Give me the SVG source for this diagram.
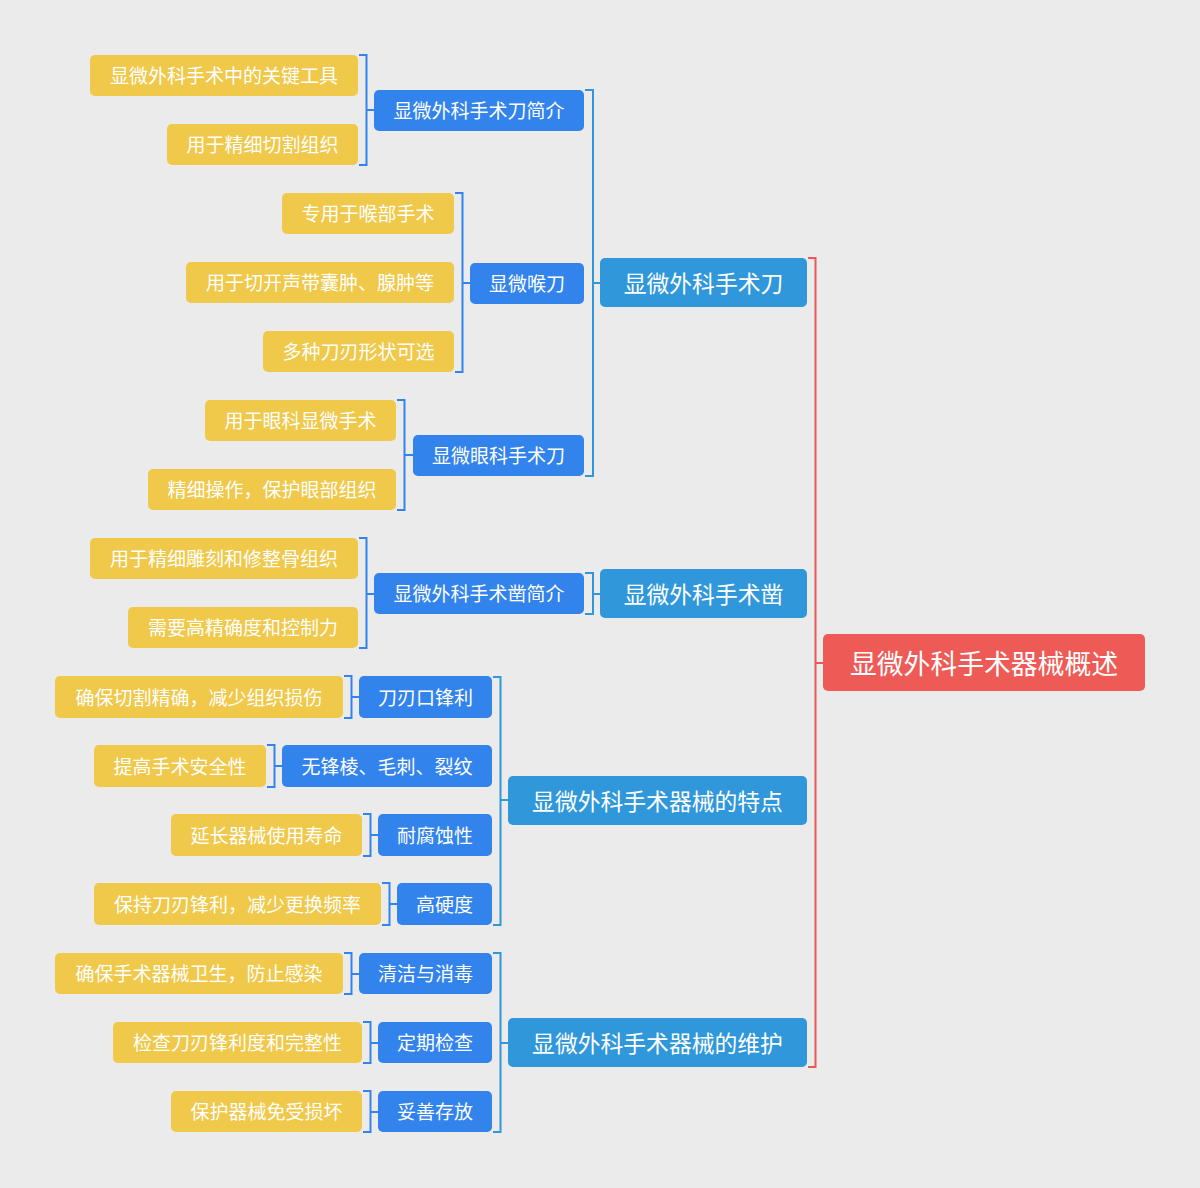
<svg xmlns="http://www.w3.org/2000/svg" width="1200" height="1188" viewBox="0 0 1200 1188">
<style>
text{font-family:"Noto Sans CJK SC","Microsoft YaHei",sans-serif;fill:#fff;text-anchor:middle;dominant-baseline:central}
.r rect{fill:#EE5B56}
.l1 rect{fill:#3098DA}
.l2 rect{fill:#3283EC}
.l3 rect{fill:#F0C84A}
.r text{font-size:26.8px}
.l1 text{font-size:22.8px}
.l2 text,.l3 text{font-size:19px}
.c path{fill:none;stroke-width:2}
.cr{stroke:#E85A55}
.c1{stroke:#3098DA}
.c2{stroke:#3283EC}
</style>
<rect width="1200" height="1188" fill="#EBEBEB"/>
<g class="c" id="connectors">
<path class="cr" d="M808 258H815.5V1067H808M815.5 663H823"/>
<path class="c1" d="M585 90H593V476H585M593 283H600"/>
<path class="c1" d="M585 573H593V614H585M593 594H600"/>
<path class="c1" d="M493 677H500.5V925H493M500.5 800H508"/>
<path class="c1" d="M493 953H500.5V1132H493M500.5 1043H508"/>
<path class="c2" d="M359 55H366.5V165H359M366.5 110H374"/>
<path class="c2" d="M455 193H462.5V372H455M462.5 283H470"/>
<path class="c2" d="M397 400H404.5V510H397M404.5 455H413"/>
<path class="c2" d="M359 538H366.5V648H359M366.5 594H374"/>
<path class="c2" d="M344 676H351.5V718H344M351.5 697H359"/>
<path class="c2" d="M267 745H274.5V787H267M274.5 766H282"/>
<path class="c2" d="M363 814H370.5V856H363M370.5 835H378"/>
<path class="c2" d="M382 883H389.5V925H382M389.5 904H397"/>
<path class="c2" d="M344 953H351.5V994H344M351.5 974H359"/>
<path class="c2" d="M363 1022H370.5V1063H363M370.5 1043H378"/>
<path class="c2" d="M363 1091H370.5V1132H363M370.5 1112H378"/>
</g>
<g id="root" class="r"><rect x="823" y="634" width="322" height="57" rx="5"/><text x="984" y="662">显微外科手术器械概述</text></g>
<g id="n1" class="l1"><rect x="600" y="258" width="207" height="49" rx="5"/><text x="703.5" y="282">显微外科手术刀</text></g>
<g id="n2" class="l1"><rect x="600" y="569" width="207" height="49" rx="5"/><text x="703.5" y="593">显微外科手术凿</text></g>
<g id="n3" class="l1"><rect x="508" y="776" width="299" height="49" rx="5"/><text x="657.5" y="800">显微外科手术器械的特点</text></g>
<g id="n4" class="l1"><rect x="508" y="1018" width="299" height="49" rx="5"/><text x="657.5" y="1042">显微外科手术器械的维护</text></g>
<g id="n1a" class="l2"><rect x="374" y="90" width="210" height="41" rx="5"/><text x="479" y="109.5">显微外科手术刀简介</text></g>
<g id="n1b" class="l2"><rect x="470" y="263" width="114" height="41" rx="5"/><text x="527" y="282.5">显微喉刀</text></g>
<g id="n1c" class="l2"><rect x="413" y="435" width="171" height="41" rx="5"/><text x="498.5" y="454.5">显微眼科手术刀</text></g>
<g id="n2a" class="l2"><rect x="374" y="573" width="210" height="41" rx="5"/><text x="479" y="592.5">显微外科手术凿简介</text></g>
<g id="n3a" class="l2"><rect x="359" y="676" width="133" height="42" rx="5"/><text x="425.5" y="696">刀刃口锋利</text></g>
<g id="n3b" class="l2"><rect x="282" y="745" width="210" height="42" rx="5"/><text x="387" y="765">无锋棱、毛刺、裂纹</text></g>
<g id="n3c" class="l2"><rect x="378" y="814" width="114" height="42" rx="5"/><text x="435" y="834">耐腐蚀性</text></g>
<g id="n3d" class="l2"><rect x="397" y="883" width="95" height="42" rx="5"/><text x="444.5" y="903">高硬度</text></g>
<g id="n4a" class="l2"><rect x="359" y="953" width="133" height="41" rx="5"/><text x="425.5" y="972.5">清洁与消毒</text></g>
<g id="n4b" class="l2"><rect x="378" y="1022" width="114" height="41" rx="5"/><text x="435" y="1041.5">定期检查</text></g>
<g id="n4c" class="l2"><rect x="378" y="1091" width="114" height="41" rx="5"/><text x="435" y="1110.5">妥善存放</text></g>
<g id="n1a1" class="l3"><rect x="90" y="55" width="268" height="41" rx="5"/><text x="224" y="74.5">显微外科手术中的关键工具</text></g>
<g id="n1a2" class="l3"><rect x="167" y="124" width="191" height="41" rx="5"/><text x="262.5" y="143.5">用于精细切割组织</text></g>
<g id="n1b1" class="l3"><rect x="282" y="193" width="172" height="41" rx="5"/><text x="368" y="212.5">专用于喉部手术</text></g>
<g id="n1b2" class="l3"><rect x="186" y="262" width="268" height="41" rx="5"/><text x="320" y="281.5">用于切开声带囊肿、腺肿等</text></g>
<g id="n1b3" class="l3"><rect x="263" y="331" width="191" height="41" rx="5"/><text x="358.5" y="350.5">多种刀刃形状可选</text></g>
<g id="n1c1" class="l3"><rect x="205" y="400" width="191" height="41" rx="5"/><text x="300.5" y="419.5">用于眼科显微手术</text></g>
<g id="n1c2" class="l3"><rect x="148" y="469" width="248" height="41" rx="5"/><text x="272" y="488.5">精细操作，保护眼部组织</text></g>
<g id="n2a1" class="l3"><rect x="90" y="538" width="268" height="41" rx="5"/><text x="224" y="557.5">用于精细雕刻和修整骨组织</text></g>
<g id="n2a2" class="l3"><rect x="128" y="607" width="230" height="41" rx="5"/><text x="243" y="626.5">需要高精确度和控制力</text></g>
<g id="n3a1" class="l3"><rect x="55" y="676" width="288" height="42" rx="5"/><text x="199" y="696">确保切割精确，减少组织损伤</text></g>
<g id="n3b1" class="l3"><rect x="94" y="745" width="172" height="42" rx="5"/><text x="180" y="765">提高手术安全性</text></g>
<g id="n3c1" class="l3"><rect x="171" y="814" width="191" height="42" rx="5"/><text x="266.5" y="834">延长器械使用寿命</text></g>
<g id="n3d1" class="l3"><rect x="94" y="883" width="287" height="42" rx="5"/><text x="237.5" y="903">保持刀刃锋利，减少更换频率</text></g>
<g id="n4a1" class="l3"><rect x="55" y="953" width="288" height="41" rx="5"/><text x="199" y="972.5">确保手术器械卫生，防止感染</text></g>
<g id="n4b1" class="l3"><rect x="113" y="1022" width="249" height="41" rx="5"/><text x="237.5" y="1041.5">检查刀刃锋利度和完整性</text></g>
<g id="n4c1" class="l3"><rect x="171" y="1091" width="191" height="41" rx="5"/><text x="266.5" y="1110.5">保护器械免受损坏</text></g>
</svg>
